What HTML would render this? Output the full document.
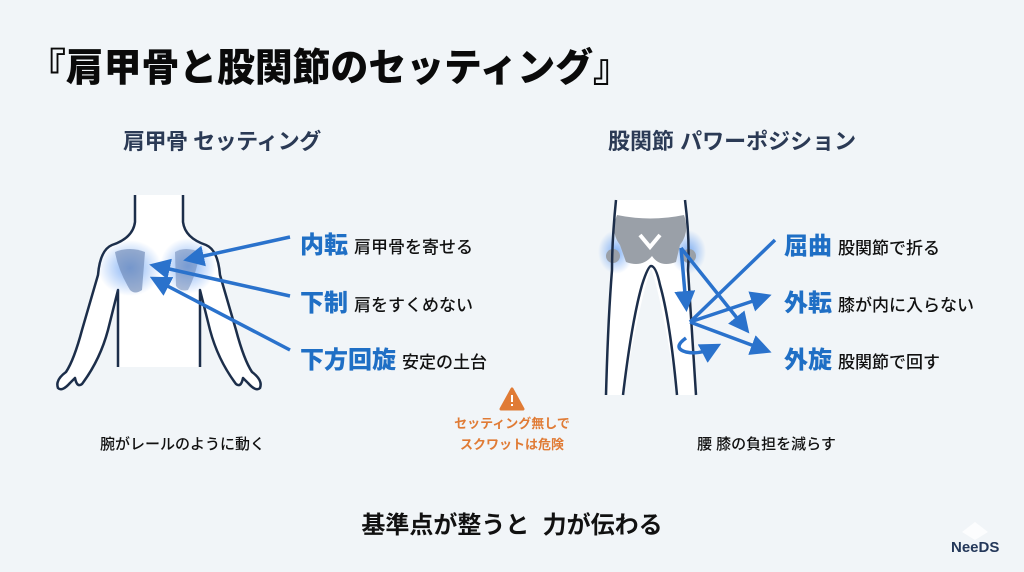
<!DOCTYPE html>
<html><head><meta charset="utf-8"><style>
body{margin:0;width:1024px;height:572px;background:#f1f5f8;font-family:"Liberation Sans","Noto Sans CJK JP",sans-serif;position:relative;overflow:hidden}
.t{position:absolute;white-space:nowrap}
.b{color:#1f6fc5;font-weight:900;font-size:24px}
.s{color:#111;font-size:17px;font-weight:500;margin-left:6px}
</style></head><body>
<div class="t" style="left:28px;top:36px;font-size:31px;font-weight:900;letter-spacing:0px;color:#0a0a0a;transform:scale(1.22,1.25);transform-origin:left top">『肩甲骨と股関節のセッティング』</div>
<div class="t" style="left:123px;top:124px;font-size:22px;font-weight:700;color:#2b3a55;letter-spacing:-0.5px">肩甲骨 セッティング</div>
<div class="t" style="left:608px;top:124px;font-size:22px;font-weight:700;color:#2b3a55;letter-spacing:0px">股関節 パワーポジション</div>
<svg width="1024" height="572" style="position:absolute;left:0;top:0">
<defs>
<marker id="ah" markerWidth="6" markerHeight="6" refX="4" refY="3" orient="auto" markerUnits="strokeWidth"><path d="M0,0 L6,3 L0,6 z" fill="#2a72cc"/></marker>
<radialGradient id="gl"><stop offset="0" stop-color="#4c8ff0" stop-opacity=".7"/><stop offset="1" stop-color="#4c8ff0" stop-opacity="0"/></radialGradient>
</defs>
<path d="M135,195 L135,222 Q133,238 112,245 Q100,250 98,275 L82,330 Q74,360 66,372 Q55,380 58,388 Q62,392 70,383 L75,378 Q77,388 82,384 Q100,360 108,330 L118,290 L118,367 L200,367 L200,290 L210,330 Q218,360 236,384 Q241,388 243,378 L248,383 Q256,392 260,388 Q263,380 252,372 Q244,360 236,330 L220,275 Q218,250 206,245 Q185,238 183,222 L183,195" fill="#fff" stroke="none"/>
<path d="M135,195 L135,222 Q133,238 112,245 Q100,250 98,275 L82,330 Q74,360 66,372 Q55,380 58,388 Q62,392 70,383 L75,378 Q77,388 82,384 Q100,360 108,330 L118,290 L118,367 M200,367 L200,290 L210,330 Q218,360 236,384 Q241,388 243,378 L248,383 Q256,392 260,388 Q263,380 252,372 Q244,360 236,330 L220,275 Q218,250 206,245 Q185,238 183,222 L183,195" fill="none" stroke="#1c2e4a" stroke-width="2.5" stroke-linejoin="round"/>
<ellipse cx="130" cy="268" rx="32" ry="28" fill="url(#gl)"/>
<ellipse cx="188" cy="266" rx="28" ry="28" fill="url(#gl)"/>
<path d="M115,252 Q130,246 145,252 L142,290 Q135,295 130,290 Q118,270 115,252z" fill="#6f89b6" opacity=".65"/>
<path d="M175,252 Q185,246 200,252 Q196,275 188,290 Q180,292 176,286z" fill="#6f89b6" opacity=".55"/>
<g stroke="#2a72cc" stroke-width="3.5" fill="none">
<line x1="290" y1="237" x2="190" y2="259" marker-end="url(#ah)"/>
<line x1="290" y1="296" x2="156" y2="266" marker-end="url(#ah)"/>
<line x1="290" y1="350" x2="156" y2="280" marker-end="url(#ah)"/>
</g>
<path d="M616,200 Q612,240 612,270 L606,395 L623,395 Q640,300 651,268 Q662,300 677,395 L696,395 Q690,300 688,270 Q688,240 685,200z" fill="#fff"/>
<ellipse cx="616" cy="252" rx="18" ry="22" fill="url(#gl)"/>
<ellipse cx="688" cy="252" rx="18" ry="22" fill="url(#gl)"/>
<path d="M617,215 Q650,222 684,215 Q690,232 680,245 L676,262 Q660,268 652,256 Q642,268 626,262 L620,245 Q610,232 617,215z" fill="#9aa0a8"/>
<circle cx="613" cy="256" r="7" fill="#9aa0a8"/><circle cx="689" cy="256" r="7" fill="#9aa0a8"/>
<path d="M640,235 L650,247 L660,235" stroke="#fff" stroke-width="4" fill="none"/>
<g stroke="#1c2e4a" stroke-width="2.5" fill="none">
<path d="M616,200 Q612,240 612,270 Q608,320 606,395"/>
<path d="M685,200 Q690,240 688,270 Q692,330 696,395"/>
<path d="M623,395 Q632,320 642,285 Q648,266 651,266 Q656,266 660,285 Q670,320 677,395"/>
</g>
<g stroke="#2a72cc" stroke-width="3.5" fill="none">
<line x1="681" y1="248" x2="686" y2="305" marker-end="url(#ah)"/>
<line x1="681" y1="248" x2="745" y2="328" marker-end="url(#ah)"/>
<line x1="690" y1="322" x2="775" y2="240"/>
<line x1="690" y1="322" x2="765" y2="297" marker-end="url(#ah)"/>
<line x1="690" y1="322" x2="765" y2="350" marker-end="url(#ah)"/>
<path d="M686,338 Q672,348 686,352 Q700,355 715,347" marker-end="url(#ah)"/>
</g>
<path d="M512,389 L523,409 L501,409z" fill="#e07b35" stroke="#e07b35" stroke-width="3" stroke-linejoin="round"/>
<rect x="511" y="395" width="2" height="7" fill="#fff"/><rect x="511" y="404" width="2" height="2" fill="#fff"/>
<path d="M975,522 L988,532 L975,540 L962,532z" fill="#fff" opacity=".8"/>
</svg>
<div class="t" style="left:300px;top:225px"><span class="b">内転</span><span class="s">肩甲骨を寄せる</span></div>
<div class="t" style="left:300px;top:283px"><span class="b">下制</span><span class="s">肩をすくめない</span></div>
<div class="t" style="left:300px;top:340px"><span class="b">下方回旋</span><span class="s">安定の土台</span></div>
<div class="t" style="left:784px;top:226px"><span class="b">屈曲</span><span class="s">股関節で折る</span></div>
<div class="t" style="left:784px;top:283px"><span class="b">外転</span><span class="s">膝が内に入らない</span></div>
<div class="t" style="left:784px;top:340px"><span class="b">外旋</span><span class="s">股関節で回す</span></div>
<div class="t" style="left:100px;top:433px;font-size:15px;font-weight:500;color:#111">腕がレールのように動く</div>
<div class="t" style="left:697px;top:433px;font-size:15px;font-weight:500;color:#111">腰 膝の負担を減らす</div>
<div class="t" style="left:445px;top:413px;width:134px;text-align:center;font-size:13px;font-weight:700;color:#e07b35;line-height:21px">セッティング無しで<br>スクワットは危険</div>
<div class="t" style="left:0;width:1024px;text-align:center;top:505px;font-size:24px;font-weight:700;color:#111">基準点が整うと&nbsp; 力が伝わる</div>
<div class="t" style="left:951px;top:539px;font-size:15px;font-weight:700;color:#24385a">NeeDS</div>
</body></html>
